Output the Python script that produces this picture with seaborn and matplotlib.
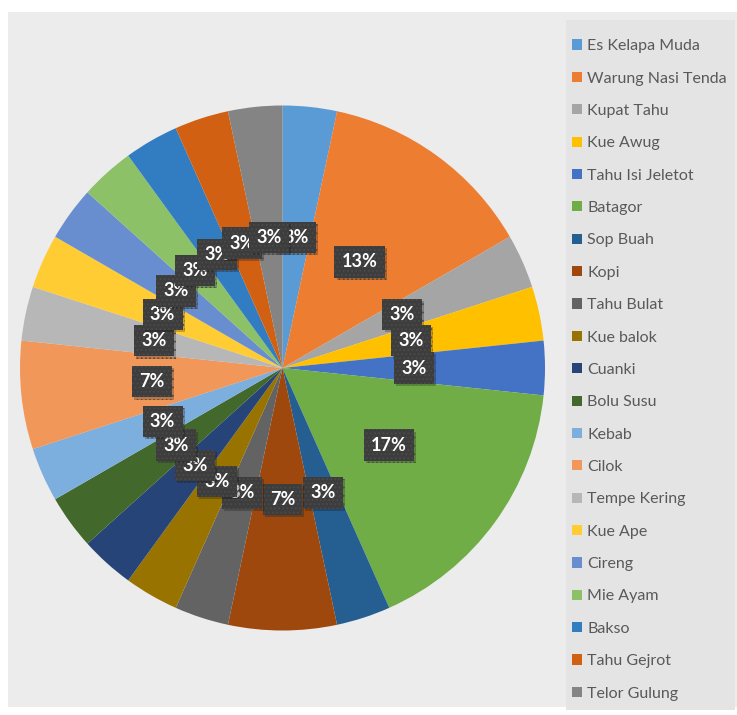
import matplotlib
matplotlib.use("Agg")
import matplotlib.pyplot as plt
import matplotlib.patheffects as pe
import seaborn as sns
from matplotlib.patches import Rectangle, Patch

categories = ["Es Kelapa Muda", "Warung Nasi Tenda", "Kupat Tahu", "Kue Awug",
              "Tahu Isi Jeletot", "Batagor", "Sop Buah", "Kopi", "Tahu Bulat",
              "Kue balok", "Cuanki", "Bolu Susu", "Kebab", "Cilok",
              "Tempe Kering", "Kue Ape", "Cireng", "Mie Ayam", "Bakso",
              "Tahu Gejrot", "Telor Gulung"]
values = [1, 4, 1, 1, 1, 5, 1, 2, 1, 1, 1, 1, 1, 2, 1, 1, 1, 1, 1, 1, 1]
colors_hex = ["#5B9BD5", "#ED7D31", "#A5A5A5", "#FFC000", "#4472C4", "#70AD47",
              "#255E91", "#9E480E", "#636363", "#997300", "#264478", "#43682B",
              "#7CAFDD", "#F1975A", "#B7B7B7", "#FFCD33", "#698ED0", "#8CC168",
              "#327DC2", "#D26012", "#848484"]

sns.set_theme(style="white")
plt.rcParams['font.family'] = ['Lato', 'DejaVu Sans']
plt.rcParams['hatch.linewidth'] = 0.8
palette = sns.color_palette(colors_hex)

W, H = 737, 715
fig = plt.figure(figsize=(W / 100, H / 100), dpi=100, facecolor="white")

# chart area background
bg = fig.add_axes([0, 0, 1, 1], zorder=0)
bg.set_xlim(0, W); bg.set_ylim(H, 0); bg.axis("off")
bg.add_patch(Rectangle((8, 12), W - 8, H - 12 - 8, facecolor="#ececec", edgecolor="none"))
bg.add_patch(Rectangle((566, 20), 735 - 566, 710 - 20, facecolor="#e4e4e4", edgecolor="none"))

cx, cy, R = 282.5, 368, 262.5
ax = fig.add_axes([(cx - R) / W, 1 - (cy + R) / H, 2 * R / W, 2 * R / H], zorder=1)
wedges, texts, autotexts = ax.pie(values, colors=palette, startangle=90, counterclock=False,
                                  autopct=lambda p: f"{p:.0f}%", pctdistance=0.5,
                                  wedgeprops=dict(linewidth=0))
for t in autotexts:
    t.set_color("white")
    t.set_fontsize(13)
    t.set_fontweight("bold")
    t.set_bbox(dict(boxstyle="square,pad=0.4", facecolor="#3d3d3d", edgecolor="#4b4b4b",
                    hatch="....", linewidth=0))
    t.get_bbox_patch().set_path_effects([
        pe.SimplePatchShadow(offset=(1.5, -1.5), shadow_rgbFace="black", alpha=0.22),
        pe.Normal()])
ax.set_aspect("equal")
ax.set_xlim(-1, 1); ax.set_ylim(-1, 1)
ax.axis("off")

handles = [Patch(facecolor=c, edgecolor="none") for c in palette]
leg = fig.legend(handles, categories, loc="upper left",
                 bbox_to_anchor=(569 / W, 1 - 36 / H), frameon=False,
                 fontsize=11.5, labelcolor="#595959", handlelength=0.6, handleheight=0.6,
                 handletextpad=0.35, labelspacing=1.15, borderaxespad=0, borderpad=0.2)

fig.savefig("out.png", dpi=100, facecolor="white")
